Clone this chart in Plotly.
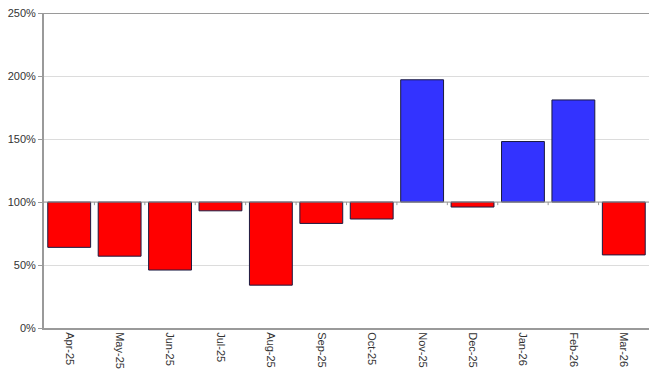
import plotly.graph_objects as go

# Monthly index relative to a 100% baseline
months = ["Apr-25", "May-25", "Jun-25", "Jul-25", "Aug-25", "Sep-25",
          "Oct-25", "Nov-25", "Dec-25", "Jan-26", "Feb-26", "Mar-26"]
values = [64, 57, 46, 93, 34, 83, 86.5, 197, 96, 148, 181, 58]
baseline = 100
y_ticks = [0, 50, 100, 150, 200, 250]

colors = ["#3333FF" if v >= baseline else "#FF0000" for v in values]

fig = go.Figure()
fig.add_trace(go.Bar(
    x=months,
    y=[v - baseline for v in values],
    base=[baseline] * len(values),
    marker=dict(color=colors, line=dict(color="#1a1a40", width=1)),
    width=0.85,
))

# baseline line with small tick marks at category boundaries
fig.add_shape(type="line", xref="paper", yref="y", x0=0, x1=1,
              y0=baseline, y1=baseline, line=dict(color="#9a9a9a", width=1))
for i in range(1, len(months)):
    fig.add_shape(type="line", xref="x", yref="y", x0=i - 0.5, x1=i - 0.5,
                  y0=baseline, y1=baseline - 2.5, line=dict(color="#9a9a9a", width=1))

fig.update_layout(
    width=650, height=372,
    margin=dict(l=44, r=1, t=13, b=44),
    paper_bgcolor="white", plot_bgcolor="white",
    showlegend=False,
    font=dict(family="Liberation Sans, Arial, sans-serif", size=11, color="#333333"),
)
fig.update_yaxes(
    range=[0, 250], tickvals=y_ticks, ticktext=[f"{t}%" for t in y_ticks],
    showgrid=True, gridcolor="#dcdcdc", gridwidth=1,
    showline=True, linecolor="#9a9a9a", linewidth=2,
    ticks="outside", ticklen=4, tickcolor="#9a9a9a",
    zeroline=False, mirror=False,
)
fig.update_xaxes(
    tickangle=90, showline=True, linecolor="#9a9a9a", linewidth=2,
    showgrid=False, ticks="", range=[-0.5, len(months) - 0.5],
)
# top frame line at 250%
fig.add_shape(type="line", xref="paper", yref="y", x0=0, x1=1, y0=250, y1=250,
              line=dict(color="#9a9a9a", width=2))

fig.write_html("out.html")
